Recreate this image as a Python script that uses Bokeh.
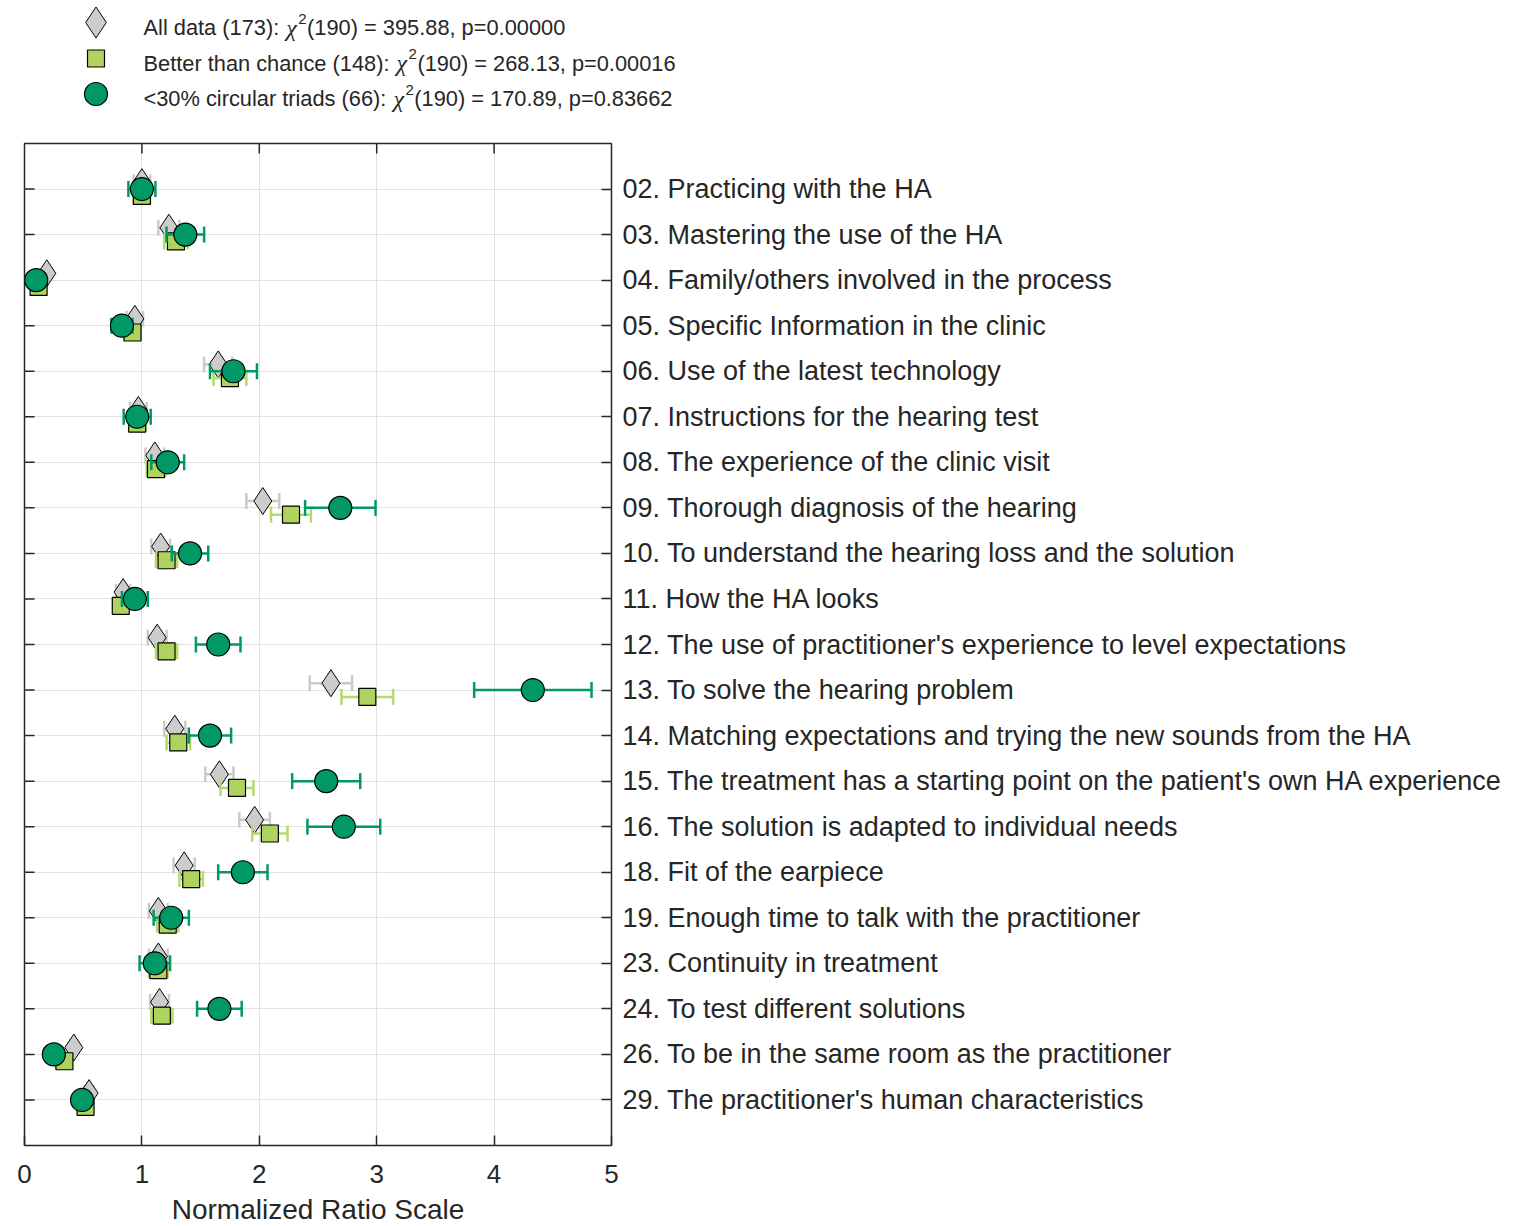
import numpy as np
from bokeh.plotting import figure
from bokeh.models import Range1d, FixedTicker, LinearAxis, ColumnDataSource
from bokeh.layouts import column
from bokeh.core.properties import value
from bokeh.embed import file_html
from bokeh.resources import INLINE

# ---------------- data ----------------
labels = [
    "02. Practicing with the HA",
    "03. Mastering the use of the HA",
    "04. Family/others involved in the process",
    "05. Specific Information in the clinic",
    "06. Use of the latest technology",
    "07. Instructions for the hearing test",
    "08. The experience of the clinic visit",
    "09. Thorough diagnosis of the hearing",
    "10. To understand the hearing loss and the solution",
    "11. How the HA looks",
    "12. The use of practitioner's experience to level expectations",
    "13. To solve the hearing problem",
    "14. Matching expectations and trying the new sounds from the HA",
    "15. The treatment has a starting point on the patient's own HA experience",
    "16. The solution is adapted to individual needs",
    "18. Fit of the earpiece",
    "19. Enough time to talk with the practitioner",
    "23. Continuity in treatment",
    "24. To test different solutions",
    "26. To be in the same room as the practitioner",
    "29. The practitioner's human characteristics",
]

all_data = [1.00, 1.23, 0.19, 0.94, 1.65, 0.97, 1.11, 2.03, 1.16, 0.84, 1.13,
            2.61, 1.28, 1.66, 1.96, 1.36, 1.14, 1.14, 1.15, 0.42, 0.55]
all_err = [0.07, 0.09, 0.015, 0.07, 0.12, 0.07, 0.08, 0.14, 0.08, 0.06, 0.08,
           0.18, 0.09, 0.12, 0.13, 0.09, 0.08, 0.08, 0.08, 0.03, 0.04]

better = [1.00, 1.29, 0.12, 0.92, 1.75, 0.96, 1.12, 2.27, 1.21, 0.82, 1.21,
          2.92, 1.31, 1.81, 2.09, 1.42, 1.22, 1.14, 1.17, 0.34, 0.52]
better_err = [0.07, 0.10, 0.01, 0.07, 0.14, 0.07, 0.08, 0.17, 0.09, 0.06, 0.09,
              0.22, 0.10, 0.14, 0.15, 0.10, 0.09, 0.08, 0.09, 0.03, 0.04]

circ30 = [1.00, 1.37, 0.10, 0.83, 1.78, 0.96, 1.22, 2.69, 1.41, 0.94, 1.65,
          4.33, 1.58, 2.57, 2.72, 1.86, 1.25, 1.11, 1.66, 0.25, 0.49]
circ30_err = [0.115, 0.16, 0.04, 0.09, 0.20, 0.115, 0.14, 0.30, 0.155, 0.11, 0.19,
              0.50, 0.18, 0.29, 0.31, 0.21, 0.15, 0.13, 0.19, 0.03, 0.06]

legend_names = ["All data (173): ", "Better than chance (148): ", "<30% circular triads (66): "]
legend_stats = ["(190) = 395.88, p=0.00000", "(190) = 268.13, p=0.00016", "(190) = 170.89, p=0.83662"]
x_ticks = [0, 1, 2, 3, 4, 5]
x_title = "Normalized Ratio Scale"

# ---------------- style ----------------
FONT = "Liberation Sans"
DARK = "#262626"
GREY_FILL = "#cccccc"
GREY_ERR = "#cbcbcb"
LIME_FILL = "#afd35f"
LIME_ERR = "#b5da6c"
GREEN = "#009966"

W = 1530
LEG_H = 135
TITLE_H = 35
MAIN_H = 1226 - LEG_H - TITLE_H
FRAME_L, FRAME_R = 24, 611


def blank_fig(h):
    f = figure(width=W, height=h, x_range=Range1d(0, W), y_range=Range1d(h, 0),
               x_axis_location=None, y_axis_location=None, toolbar_location=None,
               output_backend="svg", min_border=0)
    f.frame_align = False
    f.grid.visible = False
    f.outline_line_color = None
    return f


# ---------------- legend figure ----------------
leg = blank_fig(LEG_H)
mk_x = 95.5
mk_y = [22, 58, 93.5]
leg.scatter([mk_x], [mk_y[0]], marker="diamond", size=31, fill_color=GREY_FILL, line_color="black", line_width=1)
leg.scatter([mk_x], [mk_y[1]], marker="square", size=17, fill_color=LIME_FILL, line_color="black", line_width=1.2)
leg.scatter([mk_x], [mk_y[2]], marker="circle", size=23, fill_color=GREEN, line_color="black", line_width=1.2)

# Arial / Liberation Sans advance widths (per em) for laying out the legend text
AW = {" ": .278, "(": .333, ")": .333, ":": .278, ",": .278, ".": .278, "=": .584,
      "<": .584, "%": .889, "A": .667, "B": .667, "a": .556, "c": .5, "d": .556,
      "e": .556, "h": .556, "i": .222, "l": .222, "n": .556, "r": .333, "s": .5,
      "t": .278, "u": .556, "p": .556}
def tw(s, fs):
    return sum(AW.get(ch, .556) for ch in s) * fs

FS = 21.8
text_x0 = 143
base_y = [27, 62.5, 98]
for i in range(3):
    x = text_x0
    leg.text([x], [base_y[i]], text=[legend_names[i]], text_font=value(FONT),
             text_font_size=value(f"{FS}px"), text_baseline="alphabetic", text_color=DARK)
    x += tw(legend_names[i], FS)
    leg.text([x + 1], [base_y[i]], text=["\u03c7"], text_font=value("Liberation Serif"),
             text_font_style="italic", text_font_size=value("24px"),
             text_baseline="alphabetic", text_color=DARK)
    x += 13
    leg.text([x], [base_y[i] - 9], text=["2"], text_font=value(FONT),
             text_font_size=value("15px"), text_baseline="alphabetic", text_color=DARK)
    x += tw("2", 15) + 0.5
    leg.text([x], [base_y[i]], text=[legend_stats[i]], text_font=value(FONT),
             text_font_size=value(f"{FS}px"), text_baseline="alphabetic", text_color=DARK)

# ---------------- main figure ----------------
n = len(labels)
ypos = np.arange(n)
p = figure(width=W, height=MAIN_H, x_range=Range1d(0, 5), y_range=Range1d(n, -1),
           toolbar_location=None, output_backend="svg",
           min_border_left=FRAME_L, min_border_right=W - FRAME_R, min_border_top=8,
           min_border_bottom=MAIN_H - (1145 - LEG_H))
p.frame_align = False
p.outline_line_color = DARK
p.outline_line_width = 1.5

# bottom axis
xa = p.xaxis[0]
xa.ticker = FixedTicker(ticks=x_ticks)
xa.minor_tick_line_color = None
xa.major_tick_in = 10
xa.major_tick_out = 0
xa.major_tick_line_color = DARK
xa.major_tick_line_width = 1.5
xa.axis_line_color = None
xa.major_label_text_font = FONT
xa.major_label_text_font_size = "26px"
xa.major_label_text_color = DARK
xa.major_label_standoff = 19

# left axis only supplies the grid ticker
ya = p.yaxis[0]
ya.ticker = FixedTicker(ticks=list(range(n)))
ya.visible = False

# right axis with category labels
right = LinearAxis(ticker=FixedTicker(ticks=list(range(n))),
                   major_label_overrides={i: labels[i] for i in range(n)},
                   major_tick_in=10, major_tick_out=0,
                   major_tick_line_color=DARK, major_tick_line_width=1.5,
                   minor_tick_line_color=None, axis_line_color=None,
                   major_label_text_font=FONT, major_label_text_font_size="27px",
                   major_label_text_color=DARK, major_label_standoff=11)
p.add_layout(right, "right")

p.xgrid.ticker = FixedTicker(ticks=[1, 2, 3, 4])
p.grid.grid_line_color = "#e2e2e2"
p.grid.grid_line_width = 1

# inward ticks on the left and top edges (half of each dash is clipped by the frame)
p.scatter(x=[0] * n, y=ypos, marker="dash", size=20, line_color=DARK, line_width=1.5)
p.scatter(x=x_ticks[1:-1], y=[-1] * (len(x_ticks) - 2), marker="dash", angle=np.pi / 2,
          size=20, line_color=DARK, line_width=1.5)

OFF = 0.15
series = [
    (all_data, all_err, -OFF, "diamond", 27, GREY_FILL, GREY_ERR, 1.0),
    (better, better_err, OFF, "square", 17, LIME_FILL, LIME_ERR, 1.2),
    (circ30, circ30_err, 0.0, "circle", 23, GREEN, GREEN, 1.2),
]
for vals, errs, off, mk, sz, fill, ecol, lw in series:
    v = np.array(vals)
    e = np.array(errs)
    src = ColumnDataSource(dict(x=v, y=ypos + off, lo=v - e, hi=v + e))
    p.segment(x0="lo", y0="y", x1="hi", y1="y", source=src, line_color=ecol, line_width=2.5)
    p.scatter(x="lo", y="y", source=src, marker="dash", angle=np.pi / 2, size=16,
              line_color=ecol, line_width=2.5)
    p.scatter(x="hi", y="y", source=src, marker="dash", angle=np.pi / 2, size=16,
              line_color=ecol, line_width=2.5)
    p.scatter(x="x", y="y", source=src, marker=mk, size=sz, fill_color=fill,
              line_color="black", line_width=lw)

# ---------------- x-axis title strip ----------------
tt = blank_fig(TITLE_H)
tt.text([(FRAME_L + FRAME_R) / 2], [18], text=[x_title], text_font=value(FONT),
        text_font_size=value("28px"), text_align="center", text_baseline="middle",
        text_color=DARK)

layout = column(leg, p, tt, spacing=0)
open("out.html", "w").write(file_html(layout, INLINE))
